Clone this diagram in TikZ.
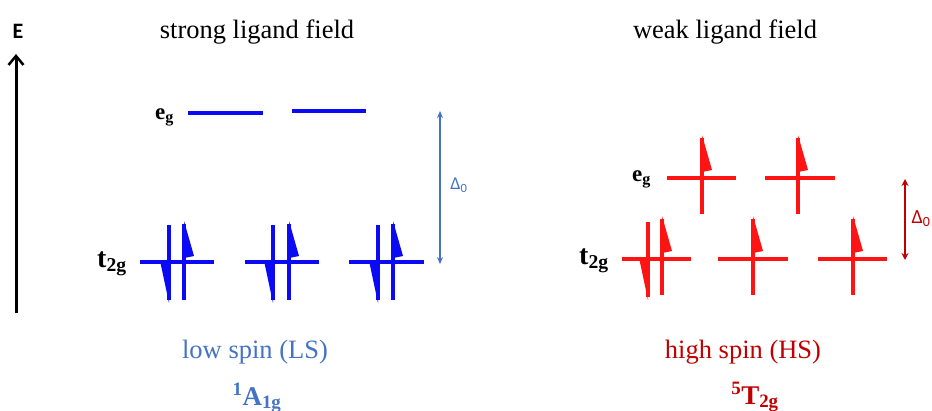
\documentclass[tikz,border=0pt]{standalone}
\usepackage{fontspec}
\setmainfont{Liberation Serif}
\newfontfamily\carlito{Carlito}
\usetikzlibrary{arrows.meta}
\definecolor{lvblue}{RGB}{10,10,245}
\definecolor{txblue}{RGB}{68,114,196}
\definecolor{lvred}{RGB}{255,20,20}
\definecolor{txred}{RGB}{192,0,0}
\tikzset{
  level/.style={line width=4pt},
  elline/.style={line width=3.5pt},
  elup/.pic={
    \draw[elline] (0,-38) -- (0,38);
    \fill (0,-41) -- (10,-6) -- (0,-4) -- cycle;
  },
  eldown/.pic={
    \draw[elline] (0,-37) -- (0,38);
    \fill (-8.5,1) -- (0,2) -- (0,41) -- cycle;
  },
  eglab/.style={font=\fontsize{23}{28}\selectfont\bfseries, inner sep=0pt, anchor=base west},
  tglab/.style={font=\fontsize{28}{32}\selectfont\bfseries, inner sep=0pt, anchor=base west},
  title/.style={font=\fontsize{26.5}{30}\selectfont, anchor=base, inner sep=0pt},
  term/.style={font=\fontsize{27}{32}\selectfont\bfseries, anchor=base, inner sep=0pt},
  dlab/.style={font=\carlito\fontsize{18}{22}\selectfont, inner sep=0pt},
}
\begin{document}
\begin{tikzpicture}[x=1pt,y=-1pt]
\useasboundingbox (0,0) rectangle (932,410);
% energy axis
\node[font=\carlito\bfseries\fontsize{22}{24}\selectfont, inner sep=0pt] (E) at (18,31) {E};
\coordinate (Ebot) at (16,313);
\coordinate (Etop) at (16,54);
\draw[line width=3pt, -{Straight Barb[length=9pt,width=15pt,line width=2.5pt]}] (Ebot) -- (Etop);
% titles
\node[title] (tL) at (257,38) {strong ligand field};
\node[title] (tR) at (725,38) {weak ligand field};
% ---- low spin (blue) ----
\begin{scope}[lvblue]
\draw[level] (188,113) -- (263,113);
\draw[level] (292,111) -- (366,111);
\draw[level] (140,262) -- (214,262);
\draw[level] (245,262) -- (319,262);
\draw[level] (349,262) -- (424,262);
\pic[lvblue] at (169,262) {eldown};
\pic[lvblue] at (184,262) {elup};
\pic[lvblue] at (273,262) {eldown};
\pic[lvblue] at (289,262) {elup};
\pic[lvblue] at (378,262) {eldown};
\pic[lvblue] at (393,262) {elup};
\end{scope}
\node[eglab] (egL) at (155,119) {e\textsubscript{g}};
\node[tglab] (tgL) at (97,267) {t\textsubscript{2g}};
\coordinate (dLt) at (440,111);
\coordinate (dLb) at (440,264);
\draw[txblue, line width=1.6pt, {Stealth[length=7pt,width=6pt]}-{Stealth[length=7pt,width=6pt]}] (dLt) -- (dLb);
\node[dlab, txblue] (dL) at (459,185) {Δ\textsubscript{0}};
\node[title, txblue] (ls) at (255,358) {low spin (LS)};
\node[term, txblue] (A1g) at (257,405) {\textsuperscript{1}A\textsubscript{1g}};
% ---- high spin (red) ----
\begin{scope}[lvred]
\draw[level] (667,178) -- (736,178);
\draw[level] (765,178) -- (835,178);
\draw[level] (622,259) -- (691,259);
\draw[level] (718,259) -- (788,259);
\draw[level] (818,259) -- (887,259);
\pic[lvred] at (702,176) {elup};
\pic[lvred] at (798,176) {elup};
\pic[lvred] at (648,259) {eldown};
\pic[lvred] at (662,257) {elup};
\pic[lvred] at (753,257) {elup};
\pic[lvred] at (853,257) {elup};
\end{scope}
\node[eglab] (egR) at (632,181) {e\textsubscript{g}};
\node[tglab] (tgR) at (579,264) {t\textsubscript{2g}};
\coordinate (dRt) at (905,179);
\coordinate (dRb) at (905,260);
\draw[txred, line width=2pt, {Stealth[length=7pt,width=7pt]}-{Stealth[length=7pt,width=7pt]}] (dRt) -- (dRb);
\node[dlab, txred, font=\carlito\fontsize{20}{22}\selectfont] (dR) at (921,219) {Δ\textsubscript{0}};
\node[title, txred] (hs) at (743,358) {high spin (HS)};
\node[term, txred] (T2g) at (755,404) {\textsuperscript{5}T\textsubscript{2g}};
\end{tikzpicture}
\end{document}
